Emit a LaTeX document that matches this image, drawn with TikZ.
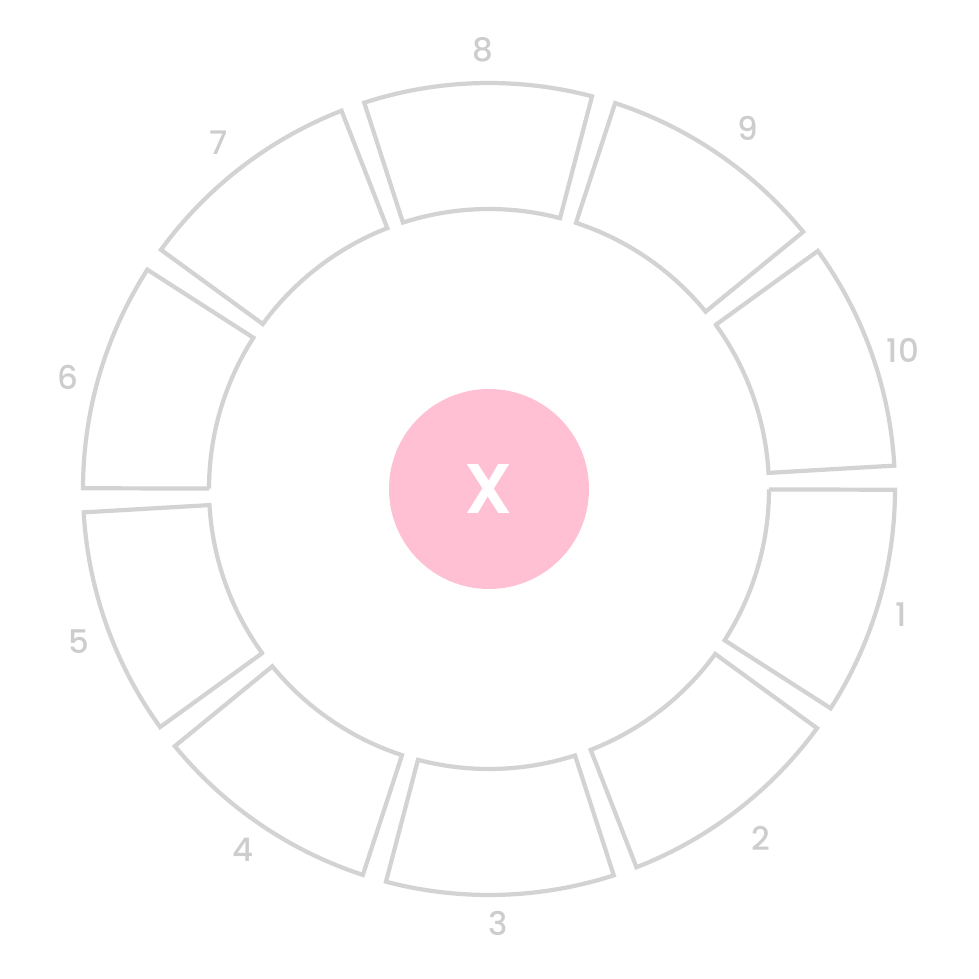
\documentclass[tikz,border=0pt]{standalone}
\usepackage{fontspec}
\setmainfont{Poppins}
\newfontfamily\labfont{Poppins Medium}
\newfontfamily\hubfont{Poppins SemiBold}
\definecolor{segline}{RGB}{211,211,211}
\definecolor{labelgray}{RGB}{205,205,205}
\definecolor{centerpink}{RGB}{255,192,212}
\tikzset{
  segment/.style={draw=segline, line width=2.4pt},
  seglabel/.style={text=labelgray, inner sep=0pt, font=\labfont\fontsize{18.5}{18.5}\selectfont},
  hub/.style={circle, fill=centerpink, minimum size=200*0.02cm, inner sep=0pt,
    text=white, font=\hubfont\fontsize{40}{40}\selectfont}
}
\begin{document}
\begin{tikzpicture}[scale=0.02]
\def\rin{280};
\def\rout{406};
\def\half{16.3};
\useasboundingbox (-489,-490) rectangle (490,489);
% ring of segments
\foreach \k in {1,...,10}{
  \pgfmathsetmacro\mid{-16.4-36*(\k-1)}
  \pgfmathsetmacro\s{\mid+\half}
  \pgfmathsetmacro\e{\mid-\half}
  \draw[segment] (\s:\rin) -- (\s:\rout) arc[start angle=\s, end angle=\e, radius=\rout]
    -- (\e:\rin) arc[start angle=\e, end angle=\s, radius=\rin] -- cycle;
}
% numbers round the ring
\foreach \k/\lx/\ly in {1/412/-125.5, 2/272/-349, 3/9/-434.5, 4/-246/-361, 5/-410/-152.5,
  6/-421/112, 7/-270/346, 8/-6/439, 9/259/361, 10/414/139}
  \node[seglabel] (lab\k) at (\lx,\ly) {\k};
\node[hub] (x) at (0,0) {X};
\end{tikzpicture}
\end{document}
